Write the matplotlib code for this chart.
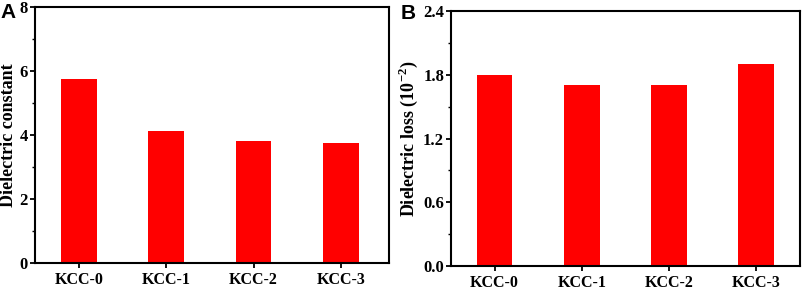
import matplotlib.pyplot as plt
from matplotlib.ticker import MultipleLocator

samples = ['KCC-0', 'KCC-1', 'KCC-2', 'KCC-3']
dielectric_constant = [5.75, 4.12, 3.82, 3.75]
dielectric_loss = [1.80, 1.70, 1.70, 1.90]

plt.rcParams['font.family'] = ['Liberation Serif', 'DejaVu Serif']
plt.rcParams['font.weight'] = 'bold'
plt.rcParams['mathtext.fontset'] = 'custom'
plt.rcParams['mathtext.rm'] = 'Liberation Serif:bold'
plt.rcParams['mathtext.bf'] = 'Liberation Serif:bold'

fig = plt.figure(figsize=(8.03, 2.90), dpi=100)
axA = fig.add_axes([0.0436, 0.0931, 0.4408, 0.883])
axB = fig.add_axes([0.5616, 0.0828, 0.4346, 0.879])

x = range(len(samples))


def style(ax, major, minor):
    for s in ax.spines.values():
        s.set_linewidth(1.5)
    ax.yaxis.set_major_locator(MultipleLocator(major))
    ax.yaxis.set_minor_locator(MultipleLocator(minor))
    ax.tick_params(axis='both', which='major', direction='out', length=3.5, width=1.3,
                   labelsize=12, pad=1.5)
    ax.tick_params(axis='x', which='major', labelsize=11.5, pad=3)
    ax.tick_params(axis='y', which='minor', direction='out', length=2.5, width=1.0)
    ax.tick_params(axis='x', which='minor', bottom=False)
    for lab in ax.get_xticklabels() + ax.get_yticklabels():
        lab.set_fontweight('bold')


axA.bar(x, dielectric_constant, width=0.41, color='#ff0000')
axA.set_xlim(-0.5, 3.55)
axA.set_ylim(0, 8)
axA.set_xticks(list(x))
axA.set_xticklabels(samples)
axA.set_ylabel('Dielectric constant', fontsize=13, fontweight='bold', labelpad=2)
style(axA, 2, 1)

axB.bar(x, dielectric_loss, width=0.41, color='#ff0000')
axB.set_xlim(-0.5, 3.5)
axB.set_ylim(0, 2.4)
axB.set_xticks(list(x))
axB.set_xticklabels(samples)
axB.set_ylabel(r'Dielectric loss (10$^{-2}$)', fontsize=13, fontweight='bold', labelpad=2)
style(axB, 0.6, 0.3)
axB.yaxis.set_major_formatter(plt.FormatStrFormatter('%.1f'))

fig.text(0.0, 0.99, 'A', fontsize=15, fontweight='bold', family='Liberation Sans', va='top')
fig.text(0.499, 0.985, 'B', fontsize=15, fontweight='bold', family='Liberation Sans', va='top')

fig.savefig('out.png', dpi=100)
